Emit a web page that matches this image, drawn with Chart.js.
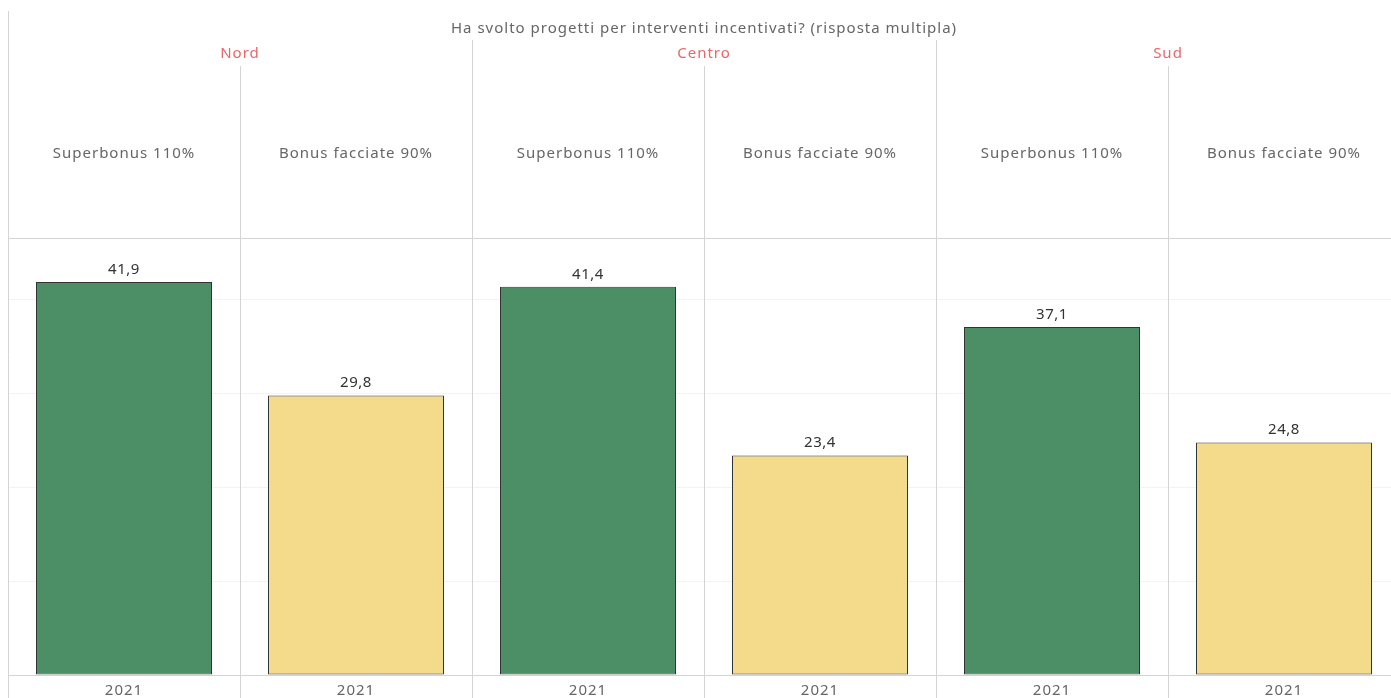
<!DOCTYPE html>
<html lang="it">
<head>
    <meta charset="UTF-8">
    <title>Interventi incentivati</title>
    <script src="https://cdn.jsdelivr.net/npm/chart.js"></script>
    <style>
        html, body {
            margin: 0;
            padding: 0;
            background: #fff;
            overflow: hidden;
        }
        .wrap {
            width: 1400px;
            height: 698px;
            overflow: hidden;
        }
    </style>
</head>
<body>
<div class="wrap">
    <canvas id="bonusChart" width="1400" height="698"></canvas>
</div>

<script>
    const title = 'Ha svolto progetti per interventi incentivati? (risposta multipla)';
    const regions = ['Nord', 'Centro', 'Sud'];
    const bonusTypes = ['Superbonus 110%', 'Bonus facciate 90%'];
    const years = ['2021', '2021', '2021', '2021', '2021', '2021'];
    const values = [41.9, 29.8, 41.4, 23.4, 37.1, 24.8];
    const barColors = ['#4c8f67', '#f4da8b', '#4c8f67', '#f4da8b', '#4c8f67', '#f4da8b'];

    const FONT = '"Noto Sans", sans-serif';
    const LINE = '#d4d4d4';

    // headers, panel dividers, year labels and value labels
    const tablePlugin = {
        id: 'tablePlugin',
        afterDraw(chart) {
            const ctx = chart.ctx;
            const area = chart.chartArea;
            const x = chart.scales.x;
            const n = years.length;
            const edge = i => {
                if (i === 0) return area.left;
                if (i === n) return area.right;
                return (x.getPixelForValue(i - 1) + x.getPixelForValue(i)) / 2;
            };

            ctx.save();
            ctx.strokeStyle = LINE;
            ctx.lineWidth = 1;
            for (let i = 0; i < n; i++) {
                let top = 66;
                if (i === 0) top = 11;
                else if (i % 2 === 0) top = 40;
                const px = Math.round(edge(i)) + 0.5;
                ctx.beginPath();
                ctx.moveTo(px, top);
                ctx.lineTo(px, chart.height);
                ctx.stroke();
            }
            [area.top, area.bottom].forEach(yy => {
                ctx.beginPath();
                ctx.moveTo(area.left, Math.round(yy) + 0.5);
                ctx.lineTo(area.right, Math.round(yy) + 0.5);
                ctx.stroke();
            });

            ctx.textAlign = 'center';
            ctx.textBaseline = 'middle';
            ctx.letterSpacing = '1px';
            ctx.font = '15px ' + FONT;
            ctx.fillStyle = '#666';
            ctx.fillText(title, (area.left + area.right) / 2, 29);

            ctx.fillStyle = '#e8676a';
            regions.forEach((r, k) => {
                ctx.fillText(r, edge(2 * k + 1), 54);
            });

            ctx.fillStyle = '#666';
            for (let i = 0; i < n; i++) {
                ctx.fillText(bonusTypes[i % 2], x.getPixelForValue(i), 154);
                ctx.fillText(years[i], x.getPixelForValue(i), area.bottom + 16);
            }

            const meta = chart.getDatasetMeta(0);
            ctx.fillStyle = '#333';
            ctx.letterSpacing = '0.5px';
            ctx.textBaseline = 'bottom';
            meta.data.forEach((bar, i) => {
                ctx.fillText(values[i].toFixed(1).replace('.', ','), bar.x, bar.y - 5);
            });
            ctx.restore();
        }
    };

    new Chart(document.getElementById('bonusChart'), {
        type: 'bar',
        data: {
            labels: years,
            datasets: [{
                data: values,
                backgroundColor: barColors,
                borderColor: '#333',
                borderWidth: 1,
                borderSkipped: false,
                categoryPercentage: 1,
                barPercentage: 176 / 232
            }]
        },
        options: {
            responsive: false,
            animation: false,
            devicePixelRatio: 1,
            layout: {
                padding: {top: 238, left: 8, right: 0, bottom: 23}
            },
            plugins: {
                legend: {display: false},
                tooltip: {enabled: false}
            },
            scales: {
                x: {
                    display: false
                },
                y: {
                    min: 0,
                    max: 46.6,
                    ticks: {display: false, stepSize: 10},
                    border: {display: false},
                    grid: {
                        drawTicks: false,
                        color: c => (c.tick.value > 0 && c.tick.value % 10 === 0 ? '#f3f3f3' : 'rgba(0,0,0,0)')
                    }
                }
            }
        },
        plugins: [tablePlugin]
    });
</script>
</body>
</html>
